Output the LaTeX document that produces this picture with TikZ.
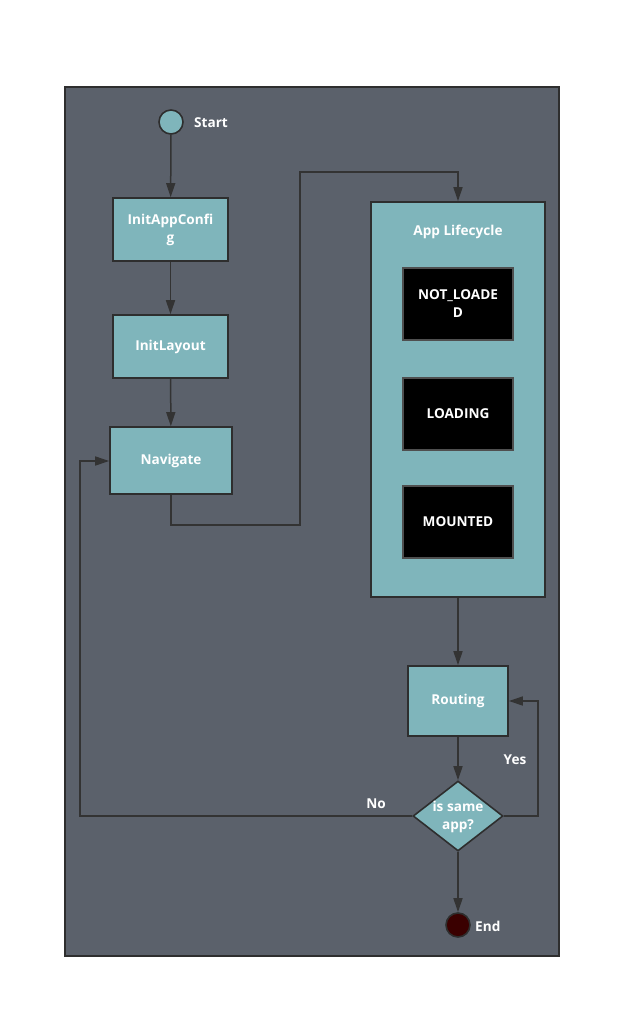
\documentclass[tikz,border=0pt]{standalone}
\usepackage{fontspec}
\setmainfont{Open Sans}
\usetikzlibrary{arrows.meta,shapes.geometric}
\definecolor{framebg}{HTML}{5B616B}
\definecolor{boxfill}{HTML}{7FB5BB}
\definecolor{edge}{HTML}{2E2E2E}
\definecolor{conn}{HTML}{333333}
\definecolor{endfill}{HTML}{3A0000}
\tikzset{
  txt/.style={text=white,font=\fontsize{13.6}{18}\selectfont\bfseries,align=center},
  tealbox/.style={txt,draw=edge,line width=1.6pt,fill=boxfill,inner sep=0pt},
  blackbox/.style={txt,draw=edge!60!gray,line width=1.6pt,fill=black,inner sep=0pt,minimum width=110pt,minimum height=72pt},
  conn/.style={draw=conn,line width=1.5pt,-{Triangle[length=14pt,width=9pt]}},
  dot/.style={circle,draw=edge,line width=1.6pt,minimum size=24pt,inner sep=0pt},
  lbl/.style={txt,inner sep=0pt}
}
\begin{document}
\begin{tikzpicture}[x=1pt,y=-1pt]
\useasboundingbox (0,0) rectangle (621,1018);
\node[draw=edge,line width=1.5pt,fill=framebg,minimum width=494pt,minimum height=869pt,inner sep=0pt] (frame) at (312,521.5) {};
\node[dot,fill=boxfill] (start) at (171,122) {};
\node[lbl,anchor=west] (startl) at (194,123) {Start};
\node[tealbox,minimum width=115pt,minimum height=63pt] (cfg) at (170.5,229.5) {InitAppConfi\\g};
\node[tealbox,minimum width=115pt,minimum height=63pt] (lay) at (170.5,346.5) {\raisebox{-1.5pt}{InitLayout}};
\node[tealbox,minimum width=122pt,minimum height=67pt] (nav) at (171,460.5) {\raisebox{-1.5pt}{Navigate}};
\node[tealbox,minimum width=174pt,minimum height=395pt] (app) at (458,399.5) {};
\node[lbl] (appl) at (458,232) {App Lifecycle};
\node[blackbox] (nl) at (458,304) {NOT\_LOADE\\D};
\node[blackbox] (ld) at (458,414) {\raisebox{-1.5pt}{LOADING}};
\node[blackbox] (mt) at (458,522) {\raisebox{-1.5pt}{MOUNTED}};
\node[tealbox,minimum width=100pt,minimum height=70pt] (rt) at (458,701) {\raisebox{-1.5pt}{Routing}};
\node[diamond,draw=edge,line width=1.6pt,fill=boxfill,minimum width=90pt,minimum height=70pt,inner sep=0pt] (dec) at (458,816) {};
\node[lbl] (decl) at (458,817) {is same\\app?};
\node[dot,fill=endfill] (end) at (458,925) {};
\node[lbl,anchor=west] (endl) at (475,926) {End};
\node[lbl] (yes) at (515,760) {Yes};
\node[lbl] (no) at (376,804) {No};
\coordinate (n1) at (171,525);
\coordinate (n2) at (300,525);
\coordinate (n3) at (300,172);
\coordinate (n4) at (458,172);
\coordinate (y1) at (538,816);
\coordinate (y2) at (538,701);
\coordinate (o1) at (80,816);
\coordinate (o2) at (80,461);
\draw[conn] (start) -- (cfg);
\draw[conn] (cfg) -- (lay);
\draw[conn] (lay) -- (nav);
\draw[conn] (nav.south) -- (n1) -- (n2) -- (n3) -- (n4) -- (app.north);
\draw[conn] (app.south) -- (rt.north);
\draw[conn] (rt.south) -- (dec.north);
\draw[conn] (dec.east) -- (y1) -- (y2) -- (rt.east);
\draw[conn] (dec.west) -- (o1) -- (o2) -- (nav.west |- o2);
\draw[conn] (dec.south) -- (end.north);
\end{tikzpicture}
\end{document}
